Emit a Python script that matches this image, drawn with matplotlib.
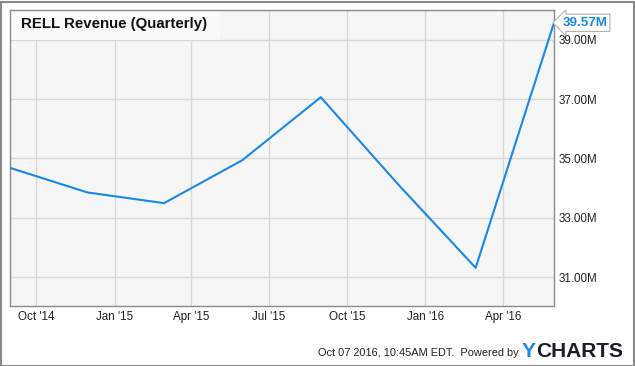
import matplotlib
matplotlib.use("Agg")
import matplotlib.pyplot as plt
from matplotlib.patches import Rectangle
import pandas as pd

# quarterly revenue, millions USD (fiscal quarter ends)
dates = pd.to_datetime(["2014-08-31", "2014-11-30", "2015-02-28", "2015-05-31",
                        "2015-08-31", "2015-11-30", "2016-02-29", "2016-05-31"])
revenue = [34.68, 33.85, 33.49, 34.94, 37.06, 34.12, 31.31, 39.57]

yticks = [31, 33, 35, 37, 39]
xticks = pd.to_datetime(["2014-10-01", "2015-01-01", "2015-04-01", "2015-07-01",
                         "2015-10-01", "2016-01-01", "2016-04-01"])
xlabels = ["Oct '14", "Jan '15", "Apr '15", "Jul '15", "Oct '15", "Jan '16", "Apr '16"]

BLUE = "#1a88e8"
W, H = 635, 366
plt.rcParams["font.family"] = ["Liberation Sans", "DejaVu Sans"]

fig = plt.figure(figsize=(W / 100, H / 100), dpi=100)
ax = fig.add_axes([10 / W, 1 - 305.5 / H, 544 / W, 295.5 / H])
ax.set_facecolor("#f6f6f6")

ax.plot(dates, revenue, color=BLUE, lw=1.5, zorder=3)
ax.set_xlim(dates[0], dates[-1])
ax.set_ylim(30.04, 40.0)

ax.set_yticks(yticks)
ax.set_yticklabels([f"{v:.2f}M" for v in yticks])
ax.yaxis.tick_right()
ax.set_xticks(xticks)
ax.set_xticklabels(xlabels)
ax.tick_params(length=0, labelsize=8.4, colors="#222222")
ax.tick_params(axis="y", pad=3.5)
ax.tick_params(axis="x", pad=4)
ax.grid(color="#d8d8d8", lw=1)
ax.set_axisbelow(True)
for s in ax.spines.values():
    s.set_color("#8a8a8a")
    s.set_linewidth(1)

# title band
ax.add_patch(Rectangle((0, 1 - 30 / 295.5), 210 / 544, 30 / 295.5, transform=ax.transAxes,
                       facecolor="#fafafa", edgecolor="none", zorder=2))
ax.text(11 / 544, 1 - 14 / 295.5, "RELL Revenue (Quarterly)", transform=ax.transAxes,
        fontsize=10.8, fontweight="bold", va="center", ha="left", color="#111111", zorder=4)

# last value label
ax.annotate(f"{revenue[-1]:.2f}M", xy=(dates[-1], revenue[-1]), xytext=(6, 0),
            textcoords="offset points", va="center", ha="left", fontsize=9.6,
            fontweight="bold", color=BLUE, annotation_clip=False,
            bbox=dict(boxstyle="larrow,pad=0.2", fc="white", ec="#b0b0b0", lw=0.8))

# footer
fig.text(519 / W, 1 - 356 / H, "Oct 07 2016, 10:45AM EDT.  Powered by", ha="right",
         va="baseline", fontsize=7.9, color="#222222")
fig.text(522 / W, 1 - 357 / H, "Y", ha="left", va="baseline", fontsize=15,
         fontweight="bold", color="#1a88e8")
fig.text(536 / W, 1 - 357 / H, "CHARTS", ha="left", va="baseline", fontsize=15,
         fontweight="bold", color="#1c1c2a")

# outer border
fig.add_artist(Rectangle((0.5 / W, 0.5 / H), 1 - 2 / W, 1 - 2 / H, transform=fig.transFigure,
                         fill=False, ec="#8a8a8a", lw=1.5))

fig.savefig("out.png", dpi=100)
